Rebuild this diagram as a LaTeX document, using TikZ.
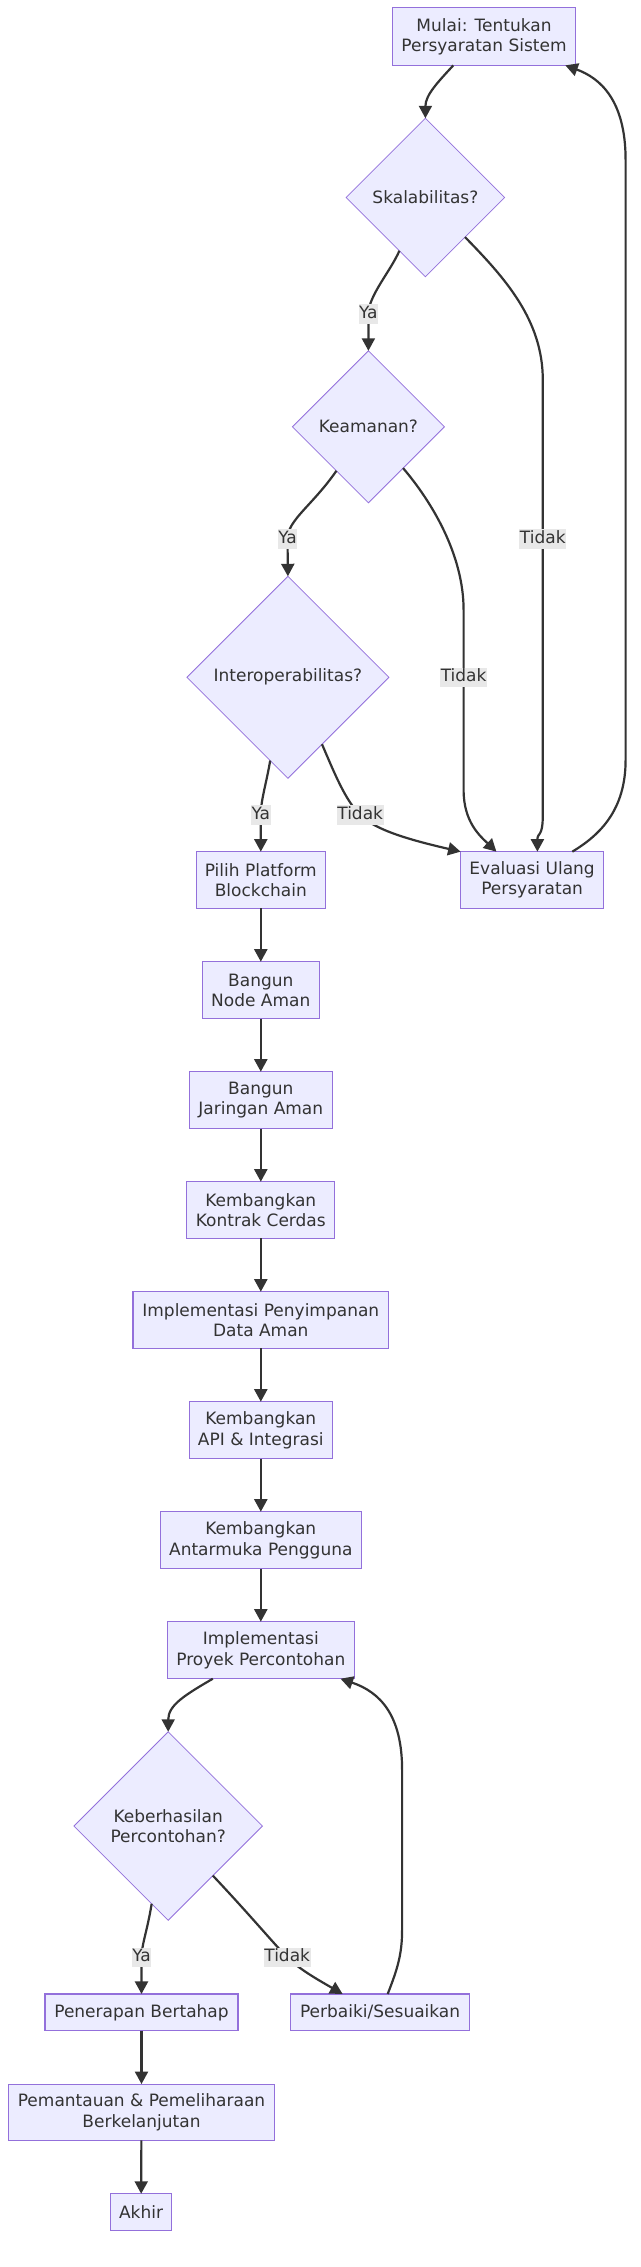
\documentclass[tikz,border=0pt]{standalone}
\usepackage{fontspec}
\setmainfont{DejaVu Sans}
\usetikzlibrary{shapes.geometric,arrows.meta}
\definecolor{nodefill}{HTML}{ECECFF}
\definecolor{nodeline}{HTML}{9370DB}
\definecolor{edgecol}{HTML}{333333}
\definecolor{lblbg}{HTML}{E8E8E8}
\begin{document}
\begin{tikzpicture}[x=1pt,y=-1pt,
  txt/.style={font=\fontsize{17}{20.3}\selectfont, text=edgecol},
  box/.style={txt, draw=nodeline, fill=nodefill, line width=1.1pt, align=center, inner sep=0pt, outer sep=0pt},
  dia/.style={txt, diamond, aspect=1, draw=nodeline, fill=nodefill, line width=0.8pt, align=center, inner sep=0pt, outer sep=0pt},
  lbl/.style={txt, fill=lblbg, inner xsep=0.5pt, inner ysep=1.2pt, text height=12.9pt, text depth=4pt},
  conn/.style={draw=edgecol, line width=2.2pt, -{Triangle[length=12.5pt,width=13pt]}}]
\fill[white] (0,0) rectangle (640,2267);
\useasboundingbox (0,0) rectangle (640,2267);

% nodes
\node[box, minimum width=183pt, minimum height=57.5pt] (start) at (484,36.6) {Mulai: Tentukan\\Persyaratan Sistem};
\node[dia, minimum width=158.5pt, minimum height=158.5pt] (skal) at (425.4,197.5) {Skalabilitas?};
\node[dia, minimum width=152pt, minimum height=152pt] (keam) at (368.4,426.8) {Keamanan?};
\node[dia, minimum width=202pt, minimum height=202pt] (interop) at (287.9,677.3) {Interoperabilitas?};
\node[box, minimum width=129pt, minimum height=56.7pt] (pilih) at (260.8,880) {Pilih Platform\\Blockchain};
\node[box, minimum width=143pt, minimum height=56.7pt] (eval) at (532.1,880) {Evaluasi Ulang\\Persyaratan};
\node[box, minimum width=117pt, minimum height=57pt] (bnode) at (260.8,990.2) {Bangun\\Node Aman};
\node[box, minimum width=143pt, minimum height=57pt] (bjar) at (260.8,1100.2) {Bangun\\Jaringan Aman};
\node[box, minimum width=148pt, minimum height=56.6pt] (kontrak) at (260.8,1210) {Kembangkan\\Kontrak Cerdas};
\node[box, minimum width=255.6pt, minimum height=56.6pt] (simpan) at (260.8,1320) {Implementasi Penyimpanan\\Data Aman};
\node[box, minimum width=143pt, minimum height=57pt] (api) at (260.8,1430.2) {Kembangkan\\API \& Integrasi};
\node[box, minimum width=201pt, minimum height=57pt] (ui) at (260.8,1540.2) {Kembangkan\\Antarmuka Pengguna};
\node[box, minimum width=187pt, minimum height=57pt] (proyek) at (260.8,1650.2) {Implementasi\\Proyek Percontohan};
\node[dia, minimum width=188.5pt, minimum height=188.5pt] (keber) at (168.2,1826) {Keberhasilan\\Percontohan?};
\node[box, minimum width=193pt, minimum height=36.7pt] (terap) at (141.5,2012.3) {Penerapan Bertahap};
\node[box, minimum width=178.4pt, minimum height=36.7pt] (perbaiki) at (380.1,2012.3) {Perbaiki/Sesuaikan};
\node[box, minimum width=265.9pt, minimum height=56.3pt] (pantau) at (141.5,2112.2) {Pemantauan \& Pemeliharaan\\Berkelanjutan};
\node[box, minimum width=60.7pt, minimum height=36.3pt] (akhir) at (141.1,2211.9) {Akhir};

% connectors
\draw[conn] ([xshift=-30.7pt]start.south) .. controls (438,82) and (425.4,95) .. (skal.north);
\draw[conn] (skal.244.5) .. controls (390,272) and (368.4,296) .. (368.4,314) node[lbl]{Ya} -- (keam.north);
\draw[conn] (skal.315) .. controls (505,278) and (542.8,320) .. (542.8,380) -- (542.8,539) node[lbl]{Tidak} -- (542.8,815) .. controls (542.8,838) and (537.4,832) .. ([xshift=5.3pt]eval.north);
\draw[conn] (keam.234.7) .. controls (312,506) and (287.5,520) .. (287.5,539) node[lbl]{Ya} -- (interop.north);
\draw[conn] (keam.310.5) .. controls (432,502) and (463.6,555) .. (463.6,610) -- (463.6,677.3) node[lbl]{Tidak} -- (463.6,790) .. controls (463.6,822) and (480,836) .. ([xshift=-35.7pt]eval.north);
\draw[conn] (interop.258.7) .. controls (266,785) and (260.8,800) .. (260.8,815) node[lbl]{Ya} -- (pilih.north);
\draw[conn] (interop.297.7) .. controls (334,772) and (345,800) .. (360.2,815) node[lbl]{Tidak} .. controls (375,830) and (410,840) .. (eval.north west);
\draw[conn] ([xshift=40.2pt]eval.north) .. controls (600,835) and (625.6,810) .. (625.6,760) -- (625.6,160) .. controls (625.6,100) and (600,78) .. ([xshift=81.3pt]start.south);
\draw[conn] (pilih) -- (bnode);
\draw[conn] (bnode) -- (bjar);
\draw[conn] (bjar) -- (kontrak);
\draw[conn] (kontrak) -- (simpan);
\draw[conn] (simpan) -- (api);
\draw[conn] (api) -- (ui);
\draw[conn] (ui) -- (proyek);
\draw[conn] ([xshift=-48pt]proyek.south) .. controls (185,1695) and (168.2,1705) .. (keber.north);
\draw[conn] (keber.258.8) .. controls (147,1932) and (141.5,1945) .. (141.5,1957.3) node[lbl]{Ya} -- (terap.north);
\draw[conn] (keber.312) .. controls (250,1915) and (275,1945) .. (287.2,1957.3) node[lbl]{Tidak} .. controls (300,1970) and (322,1982) .. ([xshift=-37.5pt]perbaiki.north);
\draw[conn] ([xshift=7.6pt]perbaiki.north) .. controls (397,1970) and (402.1,1955) .. (402.1,1930) -- (402.1,1770) .. controls (402.1,1715) and (380,1692) .. ([xshift=79.7pt]proyek.south);
\draw[conn] (terap) -- (pantau);
\draw[conn] (pantau) -- (akhir);
\end{tikzpicture}
\end{document}
